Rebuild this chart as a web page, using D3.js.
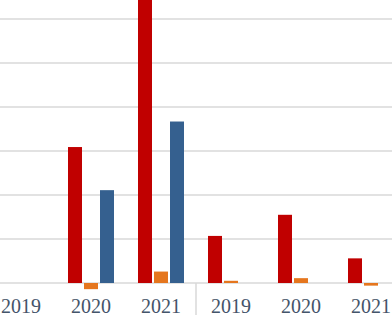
<!DOCTYPE html>
<html>
<head>
<meta charset="utf-8">
<script src="https://cdn.jsdelivr.net/npm/d3@7"></script>
<style>
html,body{margin:0;padding:0;background:#fff;overflow:hidden;}
svg{display:block;}
.cat{font-family:"Liberation Serif","Times New Roman",serif;font-size:20px;fill:#44546A;}
</style>
</head>
<body>
<svg id="chart" width="392" height="315"></svg>
<script>
const categories = ["2019", "2020", "2021", "2019", "2020", "2021"];
const seriesNames = ["red", "orange", "blue"];
const redValues = [null, 30.9, 70, 10.7, 15.5, 5.6];
const orangeValues = [null, -1.4, 2.6, 0.5, 1.1, -0.6];
const blueValues = [null, 21.1, 36.7, null, null, null];
const gridTicks = [0, 10, 20, 30, 40, 50, 60];
const colors = {red: "#C00000", orange: "#E5761E", blue: "#35608F"};

const svg = d3.select("#chart");
const W = 392, H = 315;

const x0 = d3.scaleBand().domain(d3.range(categories.length)).range([-14, 406]).padding(0);
const x1 = d3.scaleBand().domain(seriesNames).range([12, 58]).paddingInner(0.125).paddingOuter(0);
const y = d3.scaleLinear().domain([0, 60]).range([283, 19]);

// gridlines
svg.append("g").selectAll("line").data(gridTicks).join("line")
  .attr("x1", 0).attr("x2", W)
  .attr("y1", d => y(d)).attr("y2", d => y(d))
  .attr("stroke", "#d9d9d9").attr("stroke-width", 1.5);

const seriesData = {red: redValues, orange: orangeValues, blue: blueValues};
const bars = [];
categories.forEach((c, i) => {
  seriesNames.forEach(s => {
    const v = seriesData[s][i];
    if (v !== null && v !== undefined) bars.push({i, s, v});
  });
});

svg.append("g").selectAll("rect").data(bars).join("rect")
  .attr("x", d => x0(d.i) + x1(d.s))
  .attr("width", x1.bandwidth())
  .attr("y", d => Math.min(y(d.v), y(0)))
  .attr("height", d => Math.abs(y(d.v) - y(0)))
  .attr("fill", d => colors[d.s]);

// separator between the two year groups
svg.append("line")
  .attr("x1", x0(3)).attr("x2", x0(3))
  .attr("y1", y(0)).attr("y2", H)
  .attr("stroke", "#d9d9d9").attr("stroke-width", 1.5);

// category labels
svg.append("g").selectAll("text").data(categories).join("text")
  .attr("class", "cat")
  .attr("x", (d, i) => x0(i) + x0.bandwidth() / 2)
  .attr("y", 312.5)
  .attr("text-anchor", "middle")
  .text(d => d);
</script>
</body>
</html>
